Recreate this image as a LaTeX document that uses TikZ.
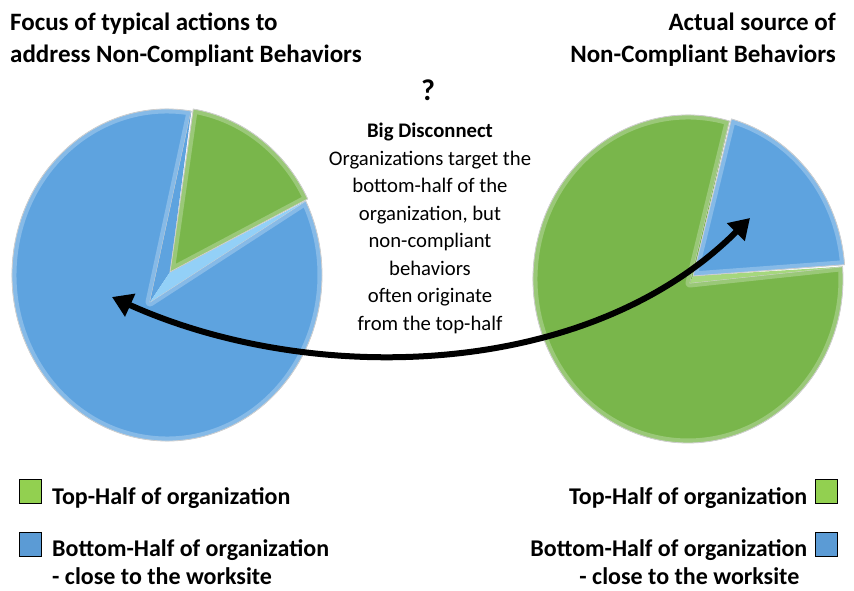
\documentclass[tikz,border=0pt]{standalone}
\usepackage{fontspec}
\setmainfont{Carlito}
\usetikzlibrary{positioning,calc,arrows.meta}
\definecolor{pieblue}{HTML}{5EA3DF}
\definecolor{pielight}{HTML}{93D0F7}
\definecolor{piegreen}{HTML}{79B64B}
\definecolor{greenlight}{HTML}{A6D77E}
\definecolor{keygreen}{HTML}{92D050}
\definecolor{keyblue}{HTML}{5B9BD5}

\begin{document}
\begin{tikzpicture}[x=1pt,y=1pt,
    slice/.style={draw=gray!45,line width=0.8pt,line join=round},
    bevel/.style={draw=white,opacity=0.25,line width=9pt,line join=round},
    heading/.style={font=\fontsize{25}{32}\selectfont\bfseries,inner sep=0pt},
    keybox/.style={draw=black,line width=1pt,minimum width=22pt,minimum height=24pt,inner sep=0pt},
    keytext/.style={font=\fontsize{24}{29}\selectfont\bfseries,inner sep=0pt},
    disconnect/.style={line width=6pt,{Triangle[length=20pt,width=24pt]}-{Triangle[length=20pt,width=24pt]}}]
  \useasboundingbox (0,0) rectangle (854,590);
  % left pie
  \coordinate (cl) at (167,315);
  \coordinate (al) at (150,288);
  \coordinate (gl) at (170,318);
  \filldraw[fill=pieblue,slice] (al) -- ($(cl)+(81:155 and 166)$) arc[start angle=81,end angle=386.5,x radius=155,y radius=166] -- cycle;
  \begin{scope}
    \clip (al) -- ($(cl)+(81:155 and 166)$) arc[start angle=81,end angle=386.5,x radius=155,y radius=166] -- cycle;
    \draw[bevel] (al) -- ($(cl)+(81:155 and 166)$) arc[start angle=81,end angle=386.5,x radius=155,y radius=166] -- cycle;
  \end{scope}
  \fill[pieblue] (al) -- ($(cl)+(81:155 and 166)$) -- (gl) -- cycle;
  \fill[pielight] (al) -- ($(cl)+(26.5:155 and 166)$) -- (gl) -- cycle;
  \filldraw[fill=piegreen,slice] (gl) -- ($(cl)+(2,2)+(26.5:155 and 166)$) arc[start angle=26.5,end angle=81,x radius=155,y radius=166] -- cycle;
  \begin{scope}
    \clip (gl) -- ($(cl)+(2,2)+(26.5:155 and 166)$) arc[start angle=26.5,end angle=81,x radius=155,y radius=166] -- cycle;
    \draw[bevel] (gl) -- ($(cl)+(2,2)+(26.5:155 and 166)$) arc[start angle=26.5,end angle=81,x radius=155,y radius=166] -- cycle;
  \end{scope}
  % right pie
  \coordinate (cr) at (688,311);
  \coordinate (ar) at (690,307);
  \coordinate (br) at (693,314);
  \filldraw[fill=piegreen,slice] (ar) -- ($(cr)+(74.5:155 and 164)$) arc[start angle=74.5,end angle=364.3,x radius=155,y radius=164] -- cycle;
  \begin{scope}
    \clip (ar) -- ($(cr)+(74.5:155 and 164)$) arc[start angle=74.5,end angle=364.3,x radius=155,y radius=164] -- cycle;
    \draw[bevel] (ar) -- ($(cr)+(74.5:155 and 164)$) arc[start angle=74.5,end angle=364.3,x radius=155,y radius=164] -- cycle;
  \end{scope}
  \fill[piegreen] (ar) -- ($(cr)+(74.5:155 and 164)$) -- (br) -- cycle;
  \fill[greenlight] (ar) -- ($(cr)+(4.3:155 and 164)$) -- (br) -- cycle;
  \filldraw[fill=pieblue,slice] (br) -- ($(cr)+(2,2)+(4.3:155 and 164)$) arc[start angle=4.3,end angle=74.5,x radius=155,y radius=164] -- cycle;
  \begin{scope}
    \clip (br) -- ($(cr)+(2,2)+(4.3:155 and 164)$) arc[start angle=4.3,end angle=74.5,x radius=155,y radius=164] -- cycle;
    \draw[bevel] (br) -- ($(cr)+(2,2)+(4.3:155 and 164)$) arc[start angle=4.3,end angle=74.5,x radius=155,y radius=164] -- cycle;
  \end{scope}
  % titles
  \node[heading,anchor=north west,align=left] (titlel) at (10,577) {Focus of typical actions to\\address Non-Compliant Behaviors};
  \node[heading,anchor=north east,align=right] (titler) at (836,577) {Actual source of\\Non-Compliant Behaviors};
  % middle text
  \node[font=\fontsize{30}{30}\selectfont\bfseries,inner sep=0pt,anchor=north] (query) at (428,510) {?};
  \node[font=\fontsize{20.7}{27.5}\selectfont,align=center,inner sep=0pt,anchor=north] (disc) at (430,467) {\textbf{Big Disconnect}\\Organizations target the\\bottom-half of the\\organization, but\\non-compliant\\behaviors\\often originate\\from the top-half};
  % arrow
  \coordinate (tipl) at (112,293);
  \coordinate (tipr) at (750,372);
  \draw[disconnect] (tipl) .. controls (312,203) and (588,210) .. (tipr);
  % legend
  \node[keybox,fill=keygreen] (topl) at (30.5,98.5) {};
  \node[keytext,right=10pt of topl.south east,anchor=base west] (toptxtl) {Top-Half of organization};
  \node[keybox,fill=keyblue] (botl) at (30.5,46) {};
  \node[keytext,right=10pt of botl.south east,anchor=base west] (bottxtl) {Bottom-Half of organization};
  \node[keytext,below=28pt of bottxtl.base west,anchor=base west] (closel) {- close to the worksite};
  \node[keybox,fill=keygreen] (topr) at (826,98.5) {};
  \node[keytext,left=7pt of topr.south west,anchor=base east] (toptxtr) {Top-Half of organization};
  \node[keybox,fill=keyblue] (botr) at (826,46) {};
  \node[keytext,left=7pt of botr.south west,anchor=base east] (bottxtr) {Bottom-Half of organization};
  \node[keytext,below=28pt of bottxtr.base east,anchor=base east,xshift=-8pt] (closer) {- close to the worksite};
\end{tikzpicture}
\end{document}
